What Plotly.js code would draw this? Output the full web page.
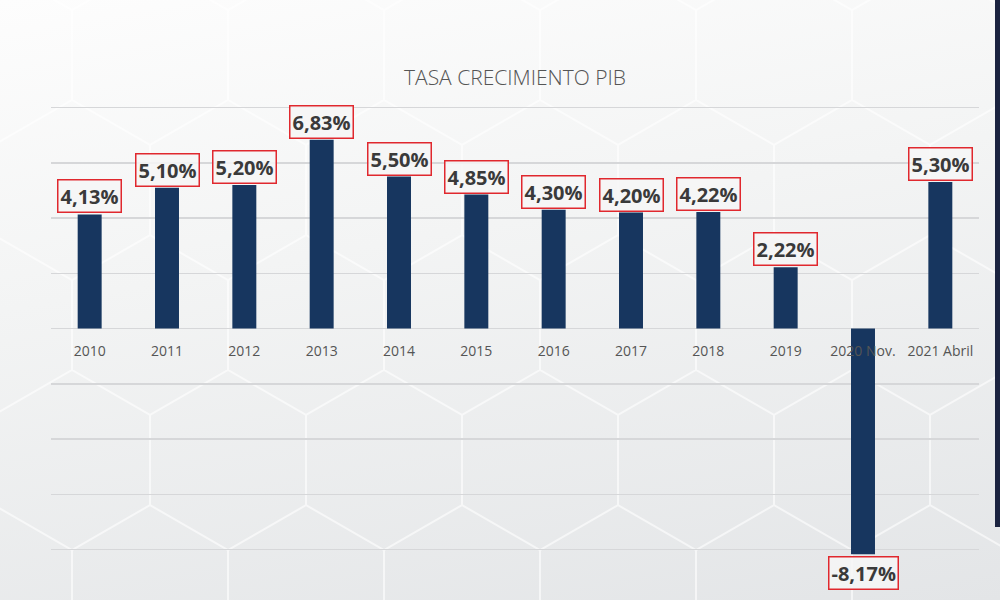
<!DOCTYPE html>
<html>
<head>
<meta charset="utf-8">
<script src="https://cdn.plot.ly/plotly-3.0.1.min.js"></script>
<style>
  html, body { margin: 0; padding: 0; }
  #chart {
    width: 1000px; height: 600px;
    background-color: #eeeff0;
    background-image:
      url("data:image/svg+xml;utf8,<svg xmlns='http://www.w3.org/2000/svg' width='156' height='270'><path d='M78 0 L156 45 L156 135 L78 180 L0 135 L0 45 Z M78 180 L78 270' fill='none' stroke='white' stroke-width='2' stroke-opacity='0.6'/></svg>"),
      linear-gradient(170deg, #fdfdfd 0%, #f3f4f4 40%, #e3e5e7 100%);
    background-position: -6px 100px, 0 0;
  }
</style>
</head>
<body>
<div id="chart"></div>
<script>
// Tasa de crecimiento del PIB (%)
const periodos = ['2010', '2011', '2012', '2013', '2014', '2015', '2016', '2017', '2018', '2019', '2020 Nov.', '2021 Abril'];
const crecimiento = [4.13, 5.10, 5.20, 6.83, 5.50, 4.85, 4.30, 4.20, 4.22, 2.22, -8.17, 5.30];

const fmt = v => v.toFixed(2).replace('.', ',') + '%';

const yMin = -8.45, yMax = 8.2;

const bars = {
  type: 'bar',
  x: periodos,
  y: crecimiento,
  marker: { color: '#17365f' },
  hoverinfo: 'skip'
};

// Etiquetas de valor con recuadro rojo
const etiquetas = periodos.map((p, i) => {
  const v = crecimiento[i];
  return {
    x: i, y: v, xref: 'x', yref: 'y',
    text: fmt(v),
    showarrow: false,
    yanchor: v >= 0 ? 'bottom' : 'top',
    yshift: v >= 0 ? 1 : -2,
    font: { family: 'Open Sans, sans-serif', size: 20, color: '#3a3a3a', weight: 700 },
    bgcolor: 'rgba(246,246,246,0.85)',
    bordercolor: '#e0282e',
    borderwidth: 1.5,
    borderpad: 2
  };
});

const layout = {
  width: 1000, height: 600,
  margin: { l: 51, r: 21, t: 102, b: 38 },
  paper_bgcolor: 'rgba(0,0,0,0)',
  plot_bgcolor: 'rgba(0,0,0,0)',
  showlegend: false,
  bargap: 0.69,
  title: {
    text: 'TASA CRECIMIENTO PIB',
    x: 0.515, xref: 'container', xanchor: 'center',
    y: 1 - 78 / 600, yref: 'container', yanchor: 'middle',
    font: { family: 'Open Sans, sans-serif', size: 21, color: '#555555', weight: 300 }
  },
  xaxis: {
    type: 'category',
    categoryorder: 'array',
    categoryarray: periodos,
    range: [-0.5, periodos.length - 0.5],
    anchor: 'free',
    position: (0 - yMin) / (yMax - yMin),
    showline: false,
    showgrid: false,
    ticks: 'outside', ticklen: 10, tickcolor: 'rgba(0,0,0,0)',
    tickfont: { family: 'Open Sans, sans-serif', size: 14, color: '#555555' }
  },
  yaxis: {
    range: [yMin, yMax],
    dtick: 2,
    showticklabels: false,
    gridcolor: '#d6d7d9', gridwidth: 1.5,
    zeroline: true, zerolinecolor: '#d6d7d9', zerolinewidth: 1.5
  },
  annotations: etiquetas,
  shapes: [{
    type: 'rect', xref: 'paper', yref: 'paper',
    x0: (995 - 51) / 928, x1: (1000 - 51) / 928,
    y0: (562 - 527) / 460, y1: 562 / 460,
    fillcolor: '#1b2340', line: { width: 0 }, layer: 'above'
  }]
};

Plotly.newPlot('chart', [bars], layout, { displayModeBar: false, staticPlot: true });
</script>
</body>
</html>
